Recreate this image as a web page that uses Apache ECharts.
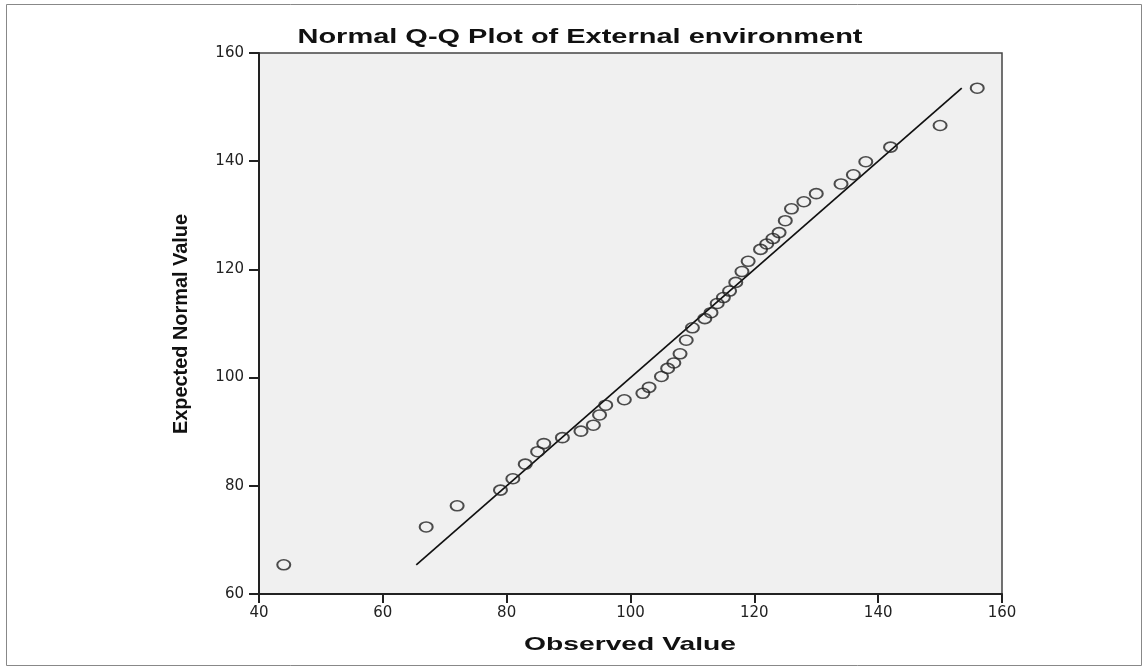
<!DOCTYPE html>
<html>
<head>
<meta charset="utf-8">
<script src="https://cdn.jsdelivr.net/npm/echarts@6/dist/echarts.min.js"></script>
<style>
html,body{margin:0;padding:0;background:#fff;}
#chart{width:1148px;height:671px;}
</style>
</head>
<body>
<div id="chart"></div>
<script>
// Data
const titleText = 'Normal Q-Q Plot of External environment';
const xAxisTitle = 'Observed Value';
const yAxisTitle = 'Expected Normal Value';
const xTicks = [40, 60, 80, 100, 120, 140, 160];
const yTicks = [60, 80, 100, 120, 140, 160];
const observedValues = [44, 67, 72, 79, 81, 83, 85, 86, 89, 92, 94, 95, 96, 99, 102, 103, 105, 106, 107, 108, 109, 110, 112, 113, 114, 115, 116, 117, 118, 119, 121, 122, 123, 124, 125, 126, 128, 130, 134, 136, 138, 142, 150, 156];
const expectedValues = [65.4, 72.4, 76.3, 79.2, 81.3, 84.0, 86.3, 87.8, 88.9, 90.1, 91.2, 93.1, 94.9, 95.9, 97.1, 98.2, 100.2, 101.7, 102.7, 104.4, 106.9, 109.2, 110.9, 112.0, 113.7, 114.8, 116.0, 117.6, 119.6, 121.5, 123.7, 124.7, 125.7, 126.8, 129.0, 131.2, 132.5, 134.0, 135.8, 137.5, 139.9, 142.6, 146.6, 153.5];
const refLineEnds = [65.4, 153.5];

const points = observedValues.map((v, i) => [v, expectedValues[i]]);
const linePts = refLineEnds.map(v => [v, v]);

function measure(text, font) {
  const c = document.createElement('canvas').getContext('2d');
  c.font = font;
  return c.measureText(text).width;
}
const titleFont = 'bold 21px "Liberation Sans", Arial, sans-serif';
const xtFont = 'bold 19px "Liberation Sans", Arial, sans-serif';
const ytFont = 'bold 20px "Liberation Sans Narrow", "Liberation Sans", Arial, sans-serif';

const chart = echarts.init(document.getElementById('chart'), null, {renderer: 'canvas'});
const axisColor = '#222';
chart.setOption({
  animation: false,
  backgroundColor: '#fff',
  grid: {left: 259, right: 146, top: 53, bottom: 77, show: true, backgroundColor: '#f0f0f0', borderColor: '#444', borderWidth: 1.5},
  xAxis: {
    type: 'value', min: xTicks[0], max: xTicks[xTicks.length - 1], interval: 20,
    axisLine: {show: true, onZero: false, lineStyle: {color: axisColor, width: 2}},
    axisTick: {show: true, length: 9, lineStyle: {color: axisColor, width: 2}},
    axisLabel: {margin: 12, fontFamily: 'DejaVu Sans', fontSize: 15, color: axisColor},
    splitLine: {show: false}
  },
  yAxis: {
    type: 'value', min: yTicks[0], max: yTicks[yTicks.length - 1], interval: 20,
    axisLine: {show: true, onZero: false, lineStyle: {color: axisColor, width: 2}},
    axisTick: {show: true, length: 10, lineStyle: {color: axisColor, width: 2}},
    axisLabel: {margin: 15, fontFamily: 'DejaVu Sans', fontSize: 15, color: axisColor},
    splitLine: {show: false}
  },
  series: [
    {
      type: 'line', data: linePts, symbol: 'none', silent: true,
      lineStyle: {color: '#111', width: 1.7}, z: 2
    },
    {
      type: 'scatter', data: points,
      symbol: 'path://M0,50 A50,50 0 1,1 100,50 A50,50 0 1,1 0,50 Z',
      symbolSize: [13, 10],
      itemStyle: {color: 'rgba(0,0,0,0)', borderColor: '#222', borderWidth: 1.8},
      z: 3
    }
  ],
  graphic: [
    {type: 'rect', shape: {x: 6.5, y: 4.5, width: 1135, height: 661}, style: {fill: 'none', stroke: '#888', lineWidth: 1}, silent: true},
    {type: 'text', x: 580, y: 37, scaleX: 565 / measure(titleText, titleFont),
     style: {text: titleText, font: titleFont, fill: '#111', textAlign: 'center', textVerticalAlign: 'middle'}},
    {type: 'text', x: 630, y: 645, scaleX: 212 / measure(xAxisTitle, xtFont),
     style: {text: xAxisTitle, font: xtFont, fill: '#111', textAlign: 'center', textVerticalAlign: 'middle'}},
    {type: 'text', x: 181, y: 324, rotation: Math.PI / 2, scaleX: 220 / measure(yAxisTitle, ytFont),
     style: {text: yAxisTitle, font: ytFont, fill: '#111', textAlign: 'center', textVerticalAlign: 'middle'}}
  ]
});
</script>
</body>
</html>
